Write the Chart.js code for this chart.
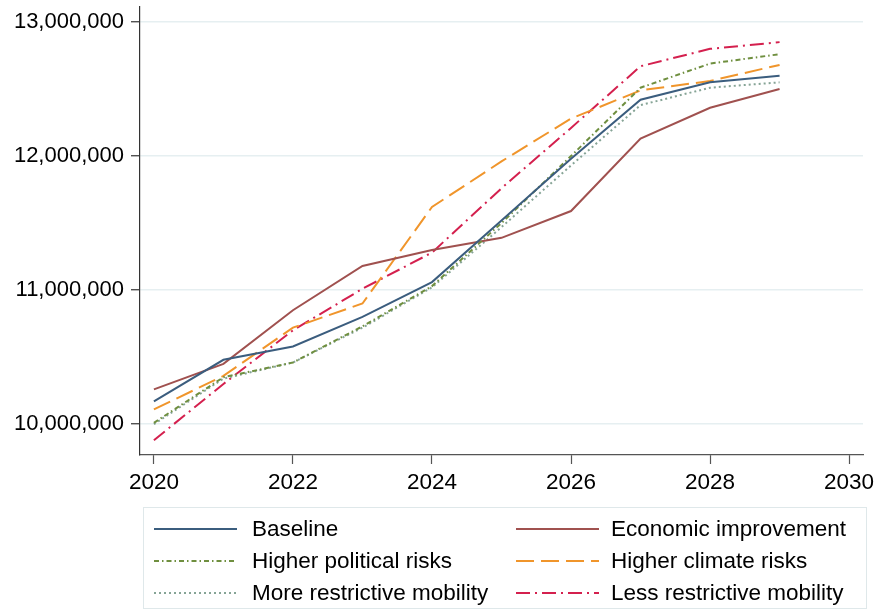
<!DOCTYPE html>
<html>
<head>
<meta charset="utf-8">
<script src="https://cdn.jsdelivr.net/npm/chart.js@4.4.1/dist/chart.umd.min.js"></script>
<style>
html,body{margin:0;padding:0;background:#fff;}
#wrap{position:relative;width:876px;height:610px;}
</style>
</head>
<body>
<div id="wrap"><canvas id="c" width="876" height="610"></canvas></div>
<script>
const years = [2020, 2021, 2022, 2023, 2024, 2025, 2026, 2027, 2028, 2029];
const baseline   = [10170000, 10480000, 10580000, 10800000, 11060000, 11520000, 11980000, 12420000, 12550000, 12600000];
const economic   = [10260000, 10450000, 10850000, 11180000, 11300000, 11390000, 11590000, 12130000, 12360000, 12500000];
const political  = [10010000, 10350000, 10460000, 10730000, 11030000, 11500000, 12000000, 12510000, 12690000, 12760000];
const climate    = [10110000, 10360000, 10720000, 10900000, 11620000, 11960000, 12280000, 12490000, 12560000, 12680000];
const moreRestr  = [10000000, 10340000, 10460000, 10720000, 11020000, 11470000, 11930000, 12380000, 12510000, 12550000];
const lessRestr  = [9880000, 10300000, 10700000, 11010000, 11280000, 11760000, 12210000, 12670000, 12800000, 12850000];
const xTicks = [2020, 2022, 2024, 2026, 2028, 2030];
const yTicks = [10000000, 11000000, 12000000, 13000000];
const seriesNames = ["Baseline", "Economic improvement", "Higher political risks", "Higher climate risks", "More restrictive mobility", "Less restrictive mobility"];

const FONT = "'Liberation Sans', Arial, sans-serif";
const pts = arr => arr.map((v, i) => ({x: years[i], y: v}));

const styles = [
  {color: '#3b5d7e', dash: []},
  {color: '#a0514f', dash: []},
  {color: '#6f8f3f', dash: [5, 3, 1.5, 3]},
  {color: '#f0952b', dash: [18, 7]},
  {color: '#86a496', dash: [2, 3]},
  {color: '#d4204e', dash: [14, 5, 2, 5]}
];
const values = [baseline, economic, political, climate, moreRestr, lessRestr];
const datasets = values.map((v, i) => ({
  label: seriesNames[i],
  data: pts(v),
  borderColor: styles[i].color,
  backgroundColor: styles[i].color,
  borderDash: styles[i].dash,
  borderWidth: 2,
  pointRadius: 0,
  tension: 0,
  fill: false,
  order: [1, 3, 2, 5, 4, 6][i]
}));

const legendPlugin = {
  id: 'boxLegend',
  afterDraw(chart) {
    const ctx = chart.ctx;
    ctx.save();
    const bx = 143, by = 507, bw = 723, bh = 101;
    ctx.strokeStyle = '#dfe8ea';
    ctx.lineWidth = 1;
    ctx.strokeRect(bx + 0.5, by + 0.5, bw, bh);
    const cols = [{lx: 154, tx: 252}, {lx: 516, tx: 611}];
    const rows = [529, 561, 593];
    ctx.font = '22.5px ' + FONT;
    ctx.textBaseline = 'middle';
    chart.data.datasets.forEach((ds, i) => {
      const col = cols[i % 2], ry = rows[Math.floor(i / 2)];
      ctx.beginPath();
      ctx.setLineDash(ds.borderDash || []);
      ctx.strokeStyle = ds.borderColor;
      ctx.lineWidth = 2;
      ctx.moveTo(col.lx, ry);
      ctx.lineTo(col.lx + 83, ry);
      ctx.stroke();
      ctx.setLineDash([]);
      ctx.fillStyle = '#000';
      ctx.fillText(ds.label, col.tx, ry + 1);
    });
    ctx.restore();
  }
};

new Chart(document.getElementById('c'), {
  type: 'line',
  data: {datasets},
  options: {
    responsive: false,
    animation: false,
    devicePixelRatio: 1,
    layout: {padding: {top: 7, right: 13, left: 0, bottom: 0}},
    plugins: {legend: {display: false}, tooltip: {enabled: false}},
    scales: {
      x: {
        type: 'linear',
        min: 2019.8,
        max: 2030.2,
        afterBuildTicks: s => { s.ticks = xTicks.map(v => ({value: v})); },
        afterFit: s => { s.height = 155; s.paddingLeft = 0; s.paddingRight = 0; },
        grid: {drawOnChartArea: false, drawTicks: true, tickLength: 9, tickColor: '#555', tickWidth: 1.2},
        border: {display: true, color: '#555', width: 1.2},
        ticks: {color: '#000', font: {family: FONT, size: 22.5}, padding: 5, maxRotation: 0,
          callback: v => String(v)}
      },
      y: {
        type: 'linear',
        min: 9770000,
        max: 13112000,
        afterBuildTicks: s => { s.ticks = yTicks.map(v => ({value: v})); },
        afterFit: s => { s.width = 140; s.paddingTop = 0; s.paddingBottom = 0; },
        grid: {drawOnChartArea: true, color: '#e6eff1', lineWidth: 1.5, drawTicks: true, tickLength: 9, tickColor: '#333', tickWidth: 1.2},
        border: {display: true, color: '#333', width: 1.2},
        ticks: {color: '#000', font: {family: FONT, size: 22}, padding: 7,
          callback: v => v.toLocaleString('en-US')}
      }
    }
  },
  plugins: [legendPlugin]
});
</script>
</body>
</html>
